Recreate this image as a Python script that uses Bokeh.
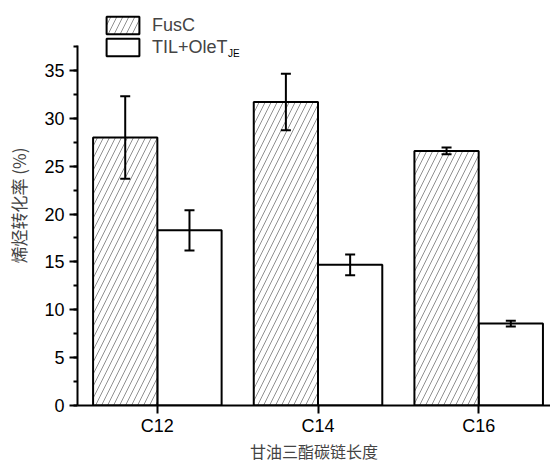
import numpy as np
from bokeh.plotting import figure
from bokeh.models import (Range1d, SingleIntervalTicker, FixedTicker, Whisker,
                          ColumnDataSource, Legend, LegendItem, Label, TeeHead)
from bokeh.embed import file_html
from bokeh.resources import INLINE

categories = ["C12", "C14", "C16"]
series_names = ["FusC", "TIL+OleT"]
fusc = [28.0, 31.7, 26.6]
fusc_err = [4.3, 2.95, 0.35]
til = [18.3, 14.7, 8.56]
til_err = [2.1, 1.08, 0.3]

idx = np.arange(len(categories))
src_f = ColumnDataSource(dict(x=idx - 0.2, top=fusc,
                              lo=np.array(fusc) - np.array(fusc_err),
                              hi=np.array(fusc) + np.array(fusc_err)))
src_t = ColumnDataSource(dict(x=idx + 0.2, top=til,
                              lo=np.array(til) - np.array(til_err),
                              hi=np.array(til) + np.array(til_err)))

p = figure(width=550, height=467, output_backend="svg", toolbar_location=None,
           x_range=Range1d(-0.497, 2.447), y_range=Range1d(0, 41.79),
           min_border_left=77, min_border_right=0, min_border_top=5,
           min_border_bottom=62)
p.outline_line_color = None
p.xgrid.visible = False
p.ygrid.visible = False

r_t = p.vbar(x="x", top="top", width=0.4, source=src_t, fill_color="white",
             line_color="black", line_width=2)
r_f = p.vbar(x="x", top="top", width=0.4, source=src_f, fill_color="white",
             line_color="black", line_width=2, hatch_pattern="/",
             hatch_scale=12, hatch_weight=0.6, hatch_color="#444444")

for s in (src_f, src_t):
    w = Whisker(source=s, base="x", lower="lo", upper="hi",
                line_color="black", line_width=2, level="annotation",
                upper_head=TeeHead(size=10, line_width=2, line_color="black"),
                lower_head=TeeHead(size=10, line_width=2, line_color="black"))
    p.add_layout(w)

# axes
p.yaxis.ticker = SingleIntervalTicker(interval=5, num_minor_ticks=2)
p.yaxis.bounds = (0, 37.6)
p.xaxis.ticker = FixedTicker(ticks=list(idx))
p.xaxis.major_label_overrides = {int(i): c for i, c in zip(idx, categories)}
for ax in (p.xaxis, p.yaxis):
    ax.axis_line_width = 2
    ax.major_tick_line_width = 2
    ax.minor_tick_line_width = 2
    ax.major_tick_out = 8
    ax.major_tick_in = 0
    ax.minor_tick_out = 4
    ax.minor_tick_in = 0
    ax.major_label_text_font = "Liberation Sans"
    ax.major_label_text_font_size = "18px"
    ax.major_label_text_color = "black"
    ax.axis_label_text_font = "Noto Sans CJK SC"
    ax.axis_label_text_font_size = "17px"
    ax.axis_label_text_font_style = "normal"
    ax.axis_label_text_color = "#444444"
p.xaxis.minor_tick_line_color = None
p.xaxis.major_label_standoff = 2
p.yaxis.major_label_standoff = 5
p.xaxis.axis_label = "甘油三酯碳链长度"
p.yaxis.axis_label = "烯烃转化率 (%)"
p.xaxis.axis_label_standoff = 0
p.yaxis.axis_label_standoff = 10
p.xaxis.axis_label_text_font_size = "16px"

legend = Legend(items=[LegendItem(label=series_names[0], renderers=[r_f]),
                       LegendItem(label=series_names[1], renderers=[r_t])],
                location=(25, 347), padding=0, margin=0, spacing=0,
                glyph_width=41, glyph_height=22, label_standoff=9,
                label_text_font="Liberation Sans", label_text_font_size="18px",
                border_line_alpha=0, background_fill_alpha=0)
p.add_layout(legend, "center")

p.add_layout(Label(x=0.44, y=36.2, text="JE", text_font="Liberation Sans",
                   text_font_size="10px", text_baseline="bottom",
                   text_color="black"))

open("out.html", "w").write(file_html(p, INLINE))
